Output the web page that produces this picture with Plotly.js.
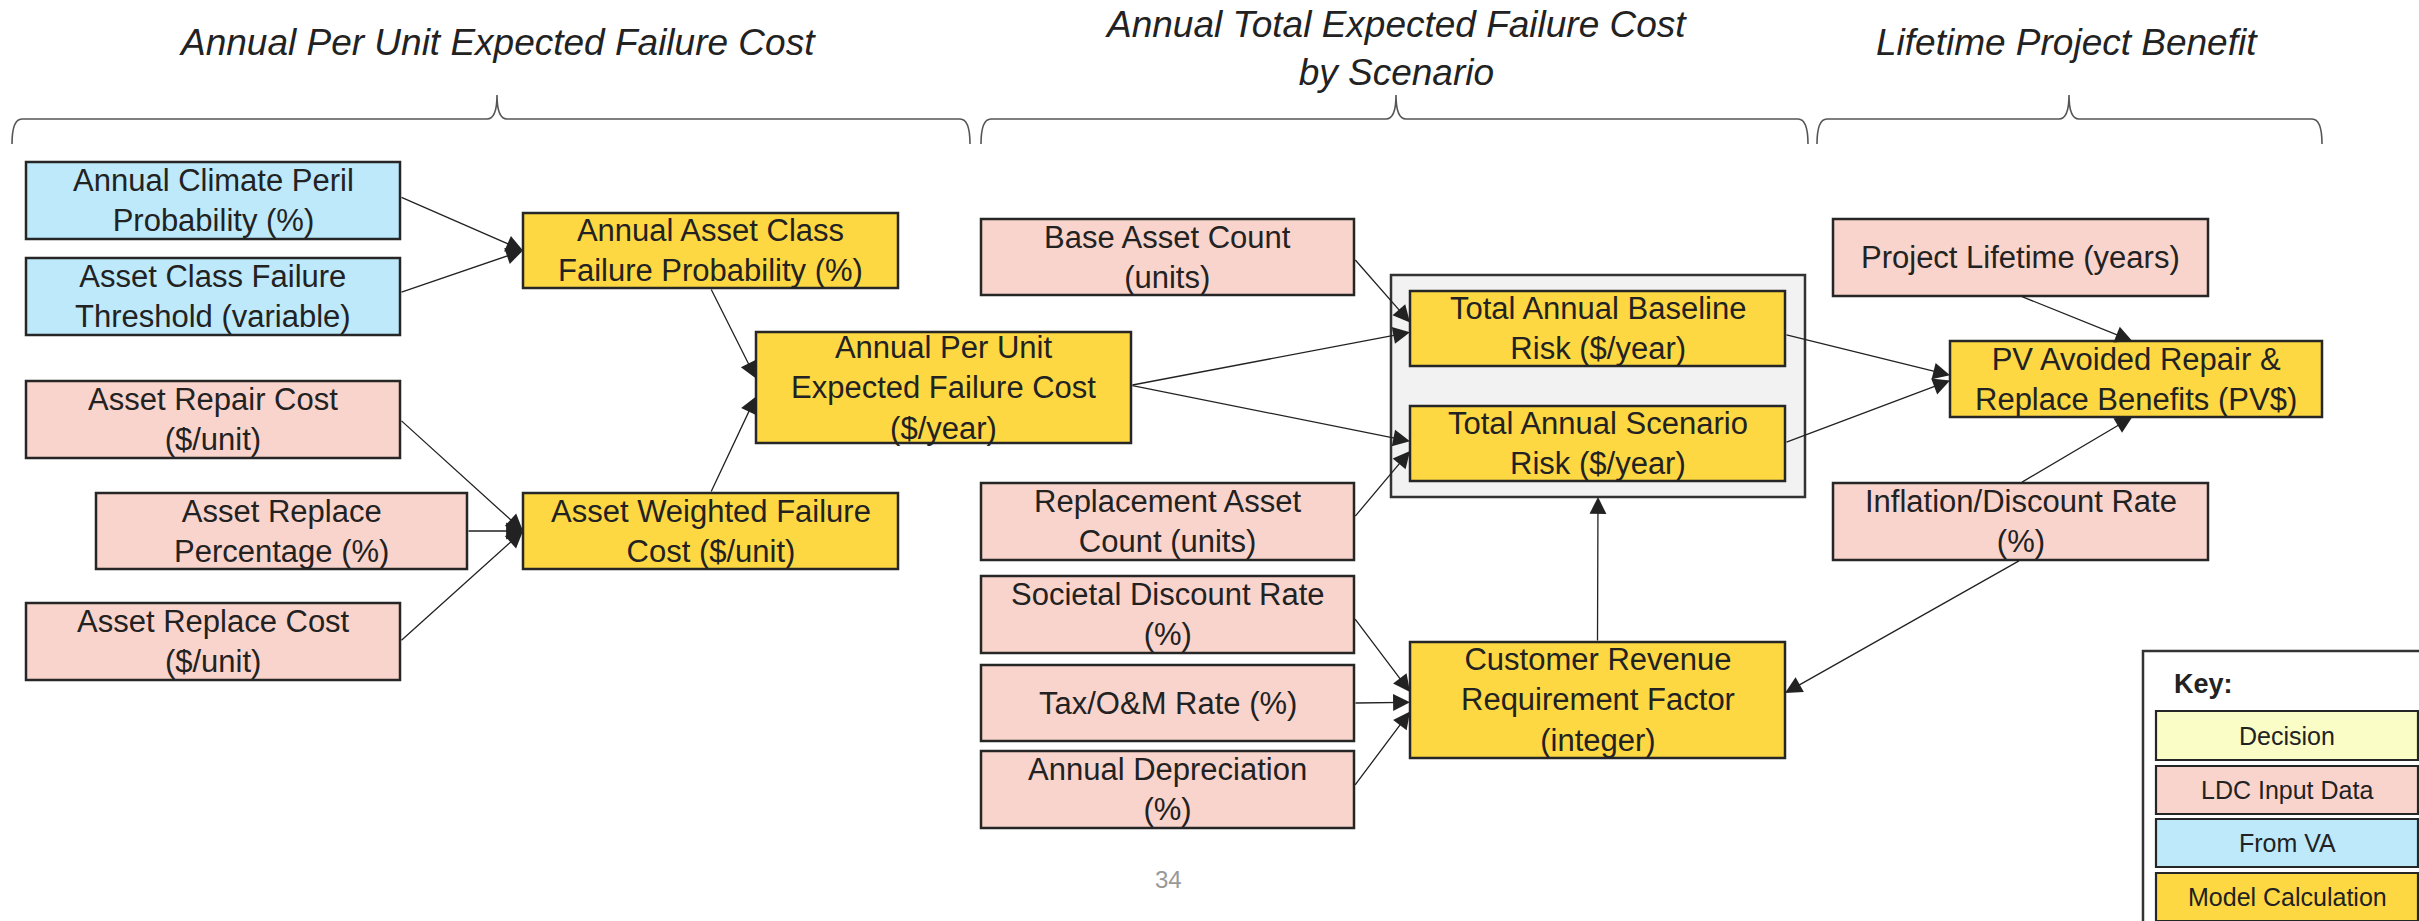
<!DOCTYPE html>
<html>
<head>
<meta charset="utf-8">
<script src="https://cdn.plot.ly/plotly-3.0.1.min.js"></script>
<style>
  html, body { margin: 0; padding: 0; background: #fff; }
  #plot { width: 2419px; height: 921px; }
</style>
</head>
<body>
<div id="plot"></div>
<script>
// Influence diagram: failure cost -> scenario risk -> lifetime benefit
const W = 2419, H = 921;
const FONT = '"Liberation Sans", Arial, sans-serif';

// ---- content ----
const sectionTitles = [
  'Annual Per Unit Expected Failure Cost',
  'Annual Total Expected Failure Cost<br>by Scenario',
  'Lifetime Project Benefit'
];

const nodeLabels = [
  'Annual Climate Peril<br>Probability (%)',            // 0
  'Asset Class Failure<br>Threshold (variable)',        // 1
  'Asset Repair Cost<br>($/unit)',                      // 2
  'Asset Replace<br>Percentage (%)',                    // 3
  'Asset Replace Cost<br>($/unit)',                     // 4
  'Annual Asset Class<br>Failure Probability (%)',      // 5
  'Asset Weighted Failure<br>Cost ($/unit)',            // 6
  'Annual Per Unit<br>Expected Failure Cost<br>($/year)', // 7
  'Base Asset Count<br>(units)',                        // 8
  'Replacement Asset<br>Count (units)',                 // 9
  'Societal Discount Rate<br>(%)',                      // 10
  'Tax/O&amp;M Rate (%)',                               // 11
  'Annual Depreciation<br>(%)',                         // 12
  'Total Annual Baseline<br>Risk ($/year)',             // 13
  'Total Annual Scenario<br>Risk ($/year)',             // 14
  'Customer Revenue<br>Requirement Factor<br>(integer)', // 15
  'Project Lifetime (years)',                           // 16
  'PV Avoided Repair &amp;<br>Replace Benefits (PV$)',  // 17
  'Inflation/Discount Rate<br>(%)'                      // 18
];
const nodeKinds = [
  'va', 'va', 'input', 'input', 'input', 'calc', 'calc', 'calc',
  'input', 'input', 'input', 'input', 'input', 'calc', 'calc', 'calc',
  'input', 'calc', 'input'
];

const keyLabels = ['Decision', 'LDC Input Data', 'From VA', 'Model Calculation'];
const keyKinds  = ['decision', 'input', 'va', 'calc'];

// edges: [from, side, frac, to, side, frac]   ('C' = scenario group box)
const edges = [
  [0, 'r', 0.45, 5, 'l', 0.5],
  [1, 'r', 0.45, 5, 'l', 0.5],
  [5, 'b', 0.5, 7, 'l', 0.42],
  [6, 't', 0.5, 7, 'l', 0.58],
  [2, 'r', 0.5, 6, 'l', 0.5],
  [3, 'r', 0.5, 6, 'l', 0.5],
  [4, 'r', 0.5, 6, 'l', 0.5],
  [7, 'r', 0.48, 13, 'l', 0.55],
  [7, 'r', 0.48, 14, 'l', 0.47],
  [8, 'r', 0.52, 13, 'l', 0.42],
  [9, 'r', 0.45, 14, 'l', 0.6],
  [10, 'r', 0.54, 15, 'l', 0.43],
  [11, 'r', 0.5, 15, 'l', 0.52],
  [12, 'r', 0.46, 15, 'l', 0.6],
  [15, 't', 0.5, 'C', 'b', 0.5],
  [13, 'r', 0.58, 17, 'l', 0.45],
  [14, 'r', 0.49, 17, 'l', 0.52],
  [16, 'b', 0.5, 17, 't', 0.49],
  [18, 't', 0.5, 17, 'b', 0.49],
  [18, 'b', 0.5, 15, 'r', 0.44]
];

const pageNumber = '34';

// ---- layout geometry (pixel space, y down) ----
const boxGeom = [
  [26, 162, 400, 239], [26, 258, 400, 335],
  [26, 381, 400, 458], [96, 493, 467, 569], [26, 603, 400, 680],
  [523, 213, 898, 288], [523, 493, 898, 569],
  [756, 332, 1131, 443],
  [981, 219, 1354, 295], [981, 483, 1354, 560],
  [981, 576, 1354, 653], [981, 665, 1354, 741], [981, 751, 1354, 828],
  [1410, 291, 1785, 366], [1410, 406, 1785, 481], [1410, 642, 1785, 758],
  [1833, 219, 2208, 296], [1950, 341, 2322, 417], [1833, 483, 2208, 560]
];
const groupGeom = [1391, 275, 1805, 497];
const braces = [[12, 497, 970], [981, 1396, 1808], [1817, 2069, 2322]];
const titlePos = [[497, 42], [1396, 48], [2067, 42]];
const keyGeom = [2143, 651, 2450, 960];
const keyRows = [[711, 760], [766, 814], [819, 867], [873, 921]];

const FILL = { decision: '#fafdc6', input: '#f9d4cc', va: '#bde9fb', calc: '#fdd843' };
const EDGE = '#262626';

function pt(g, side, f) {
  const [x0, y0, x1, y1] = g;
  if (side === 'l') return [x0, y0 + f * (y1 - y0)];
  if (side === 'r') return [x1, y0 + f * (y1 - y0)];
  if (side === 't') return [x0 + f * (x1 - x0), y0];
  return [x0 + f * (x1 - x0), y1];
}

function bracePath(x0, xm, x1) {
  const yt = 95, yl = 119, ye = 144, r = 10;
  return `M${x0},${ye} Q${x0},${yl} ${x0 + r},${yl} L${xm - r},${yl} Q${xm},${yl} ${xm},${yt} ` +
         `Q${xm},${yl} ${xm + r},${yl} L${x1 - r},${yl} Q${x1},${yl} ${x1},${ye}`;
}

const shapes = [], annotations = [];
const rect = (g, fill, w, col) => shapes.push({
  type: 'rect', xref: 'x', yref: 'y', x0: g[0], y0: g[1], x1: g[2], y1: g[3],
  fillcolor: fill, line: { color: col || EDGE, width: w || 2.5 }, layer: 'below'
});

// braces + section titles
braces.forEach(b => shapes.push({
  type: 'path', xref: 'x', yref: 'y', path: bracePath(b[0], b[1], b[2]),
  line: { color: '#555', width: 1.6 }
}));
sectionTitles.forEach((t, i) => annotations.push({
  xref: 'x', yref: 'y', x: titlePos[i][0], y: titlePos[i][1], text: t, showarrow: false,
  font: { family: FONT, size: 37, color: '#222', style: 'italic' }
}));

// scenario group container
rect(groupGeom, '#f2f2f2', 2.5, '#333');

// nodes
nodeLabels.forEach((lab, i) => {
  const g = boxGeom[i];
  rect(g, FILL[nodeKinds[i]]);
  annotations.push({
    xref: 'x', yref: 'y', x: (g[0] + g[2]) / 2, y: (g[1] + g[3]) / 2, text: lab,
    showarrow: false, font: { family: FONT, size: 31, color: '#222' }
  });
});

// arrows
edges.forEach(e => {
  const a = pt(boxGeom[e[0]], e[1], e[2]);
  const b = pt(e[3] === 'C' ? groupGeom : boxGeom[e[3]], e[4], e[5]);
  annotations.push({
    xref: 'x', yref: 'y', axref: 'x', ayref: 'y', x: b[0], y: b[1], ax: a[0], ay: a[1],
    text: '', showarrow: true, arrowhead: 2, arrowsize: 2.6, arrowwidth: 1.3, arrowcolor: '#222',
    standoff: 0, startstandoff: 0
  });
});

// key
rect(keyGeom, '#ffffff', 2.5, '#333');
annotations.push({
  xref: 'x', yref: 'y', x: 2172, y: 684, xanchor: 'left', text: '<b>Key:</b>', showarrow: false,
  font: { family: FONT, size: 27, color: '#222' }
});
keyLabels.forEach((lab, i) => {
  const g = [2156, keyRows[i][0], 2418, keyRows[i][1]];
  rect(g, FILL[keyKinds[i]], 2.2);
  annotations.push({
    xref: 'x', yref: 'y', x: 2287, y: (g[1] + g[3]) / 2, text: lab, showarrow: false,
    font: { family: FONT, size: 25, color: '#222' }
  });
});

// page number
annotations.push({
  xref: 'x', yref: 'y', x: 1168, y: 879, text: pageNumber, showarrow: false,
  font: { family: FONT, size: 24, color: '#999' }
});

Plotly.newPlot('plot', [{ x: [], y: [], type: 'scatter', hoverinfo: 'skip' }], {
  width: W, height: H,
  margin: { l: 0, r: 0, t: 0, b: 0 },
  paper_bgcolor: '#fff', plot_bgcolor: '#fff',
  showlegend: false,
  xaxis: { range: [0, W], visible: false, fixedrange: true },
  yaxis: { range: [H, 0], visible: false, fixedrange: true },
  shapes, annotations
}, { staticPlot: true });
</script>
</body>
</html>
